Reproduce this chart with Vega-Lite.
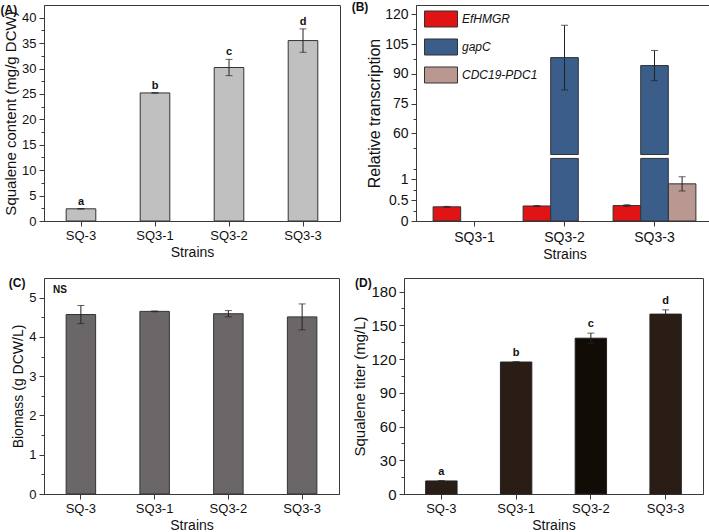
{
  "$schema": "https://vega.github.io/schema/vega-lite/v6.json",
  "padding": 0,
  "background": "white",
  "spacing": 14,
  "resolve": {"scale": {"color": "independent"}, "legend": {"color": "independent"}},
  "config": {
    "font": "Liberation Sans",
    "view": {"stroke": "#3a3a3a", "strokeWidth": 1},
    "axis": {
      "domainColor": "#3a3a3a", "tickColor": "#3a3a3a", "labelColor": "#111", "titleColor": "#111",
      "labelFont": "Liberation Sans", "titleFont": "Liberation Sans", "titleFontWeight": "normal",
      "grid": false, "tickSize": 5, "labelPadding": 3, "labelFontSize": 13, "titleFontSize": 14, "titlePadding": 3
    },
    "axisX": {"labelAngle": 0, "titlePadding": 3},
    "title": {"fontSize": 12, "fontWeight": "bold", "anchor": "start", "frame": "bounds", "color": "#111", "offset": -12}
  },
  "vconcat": [
    {
      "spacing": 10,
      "resolve": {"scale": {"color": "independent"}, "legend": {"color": "independent"}},
      "hconcat": [
        {
          "title": {"text": "(A)", "dx": -3},
          "width": 296, "height": 216,
          "data": {"values": [
            {"Strain": "SQ-3", "Value": 2.4, "Err": 0.05, "Letter": "a"},
            {"Strain": "SQ3-1", "Value": 25.2, "Err": 0.05, "Letter": "b"},
            {"Strain": "SQ3-2", "Value": 30.2, "Err": 1.6, "Letter": "c"},
            {"Strain": "SQ3-3", "Value": 35.5, "Err": 2.3, "Letter": "d"}
          ]},
          "encoding": {
            "x": {"field": "Strain", "type": "nominal", "sort": null,
                  "scale": {"paddingInner": 0.6, "paddingOuter": 0.3},
                  "axis": {"title": "Strains", "labelFontSize": 13}},
            "y": {"field": "Value", "type": "quantitative", "title": "Squalene content (mg/g DCW)",
               "scale": {"domain": [0, 42.5], "nice": false},
               "axis": {"title": "Squalene content (mg/g DCW)", "titleFontSize": 15,
                 "values": [0, 2.5, 5, 7.5, 10, 12.5, 15, 17.5, 20, 22.5, 25, 27.5, 30, 32.5, 35, 37.5, 40],
                 "labelExpr": "datum.value % 5 == 0 ? toString(datum.value) : ''",
                 "tickSize": {"condition": {"test": "datum.value % 5 != 0", "value": 3}, "value": 5}}}
          },
          "layer": [
            {"mark": {"type": "bar", "fill": "#c0c0c0", "stroke": "#333", "strokeWidth": 1}},
            {"mark": {"type": "errorbar", "ticks": {"size": 7, "color": "#222"}, "color": "#222"},
             "encoding": {"yError": {"field": "Err"}}},
            {"transform": [{"calculate": "datum.Value + datum.Err", "as": "Top"}],
             "mark": {"type": "text", "baseline": "bottom", "dy": -2, "fontWeight": "bold", "fontSize": 11, "font": "Liberation Sans", "color": "#111"},
             "encoding": {"y": {"field": "Top", "type": "quantitative", "title": "Squalene content (mg/g DCW)",
               "axis": {"title": "Squalene content (mg/g DCW)", "titleFontSize": 15,
                 "values": [0, 2.5, 5, 7.5, 10, 12.5, 15, 17.5, 20, 22.5, 25, 27.5, 30, 32.5, 35, 37.5, 40],
                 "labelExpr": "datum.value % 5 == 0 ? toString(datum.value) : ''",
                 "tickSize": {"condition": {"test": "datum.value % 5 != 0", "value": 3}, "value": 5}}},
               "text": {"field": "Letter"}}}
          ]
        },
        {
          "title": {"text": "(B)", "dx": -15},
          "width": 297, "height": 216,
          "data": {"values": [
            {"Strain": "SQ3-1", "Gene": "EfHMGR", "Value": 0.34, "Err": 0.01},
            {"Strain": "SQ3-2", "Gene": "EfHMGR", "Value": 0.36, "Err": 0.01},
            {"Strain": "SQ3-2", "Gene": "gapC", "Value": 98.2, "Err": 16.3},
            {"Strain": "SQ3-3", "Gene": "EfHMGR", "Value": 0.37, "Err": 0.02},
            {"Strain": "SQ3-3", "Gene": "gapC", "Value": 94.2, "Err": 7.6},
            {"Strain": "SQ3-3", "Gene": "CDC19-PDC1", "Value": 0.89, "Err": 0.17}
          ]},
          "encoding": {
            "x": {"field": "Strain", "type": "nominal", "sort": null,
                  "scale": {"domain": ["SQ3-1", "SQ3-2", "SQ3-3"], "paddingInner": 0.08, "paddingOuter": 0.19},
                  "axis": {"title": "Strains", "labelFontSize": 14, "titleFontSize": 14, "labelPadding": 4}},
            "xOffset": {"field": "Gene", "type": "nominal", "scale": {"domain": ["EfHMGR", "gapC", "CDC19-PDC1"], "paddingInner": 0, "paddingOuter": 0}},
            "y": {"field": "Value", "type": "quantitative", "title": "Relative transcription",
               "scale": {"domain": [0, 1.5, 49.4, 124.7], "range": [216, 153.4, 149.5, 0], "nice": false, "zero": false},
               "axis": {"title": "Relative transcription", "titleFontSize": 16, "labelFontSize": 14, "titlePadding": 2,
                 "values": [0, 0.25, 0.5, 0.75, 1, 1.25, 52.5, 60, 67.5, 75, 82.5, 90, 97.5, 105, 112.5, 120],
                 "labelExpr": "indexof([0, 0.5, 1, 60, 75, 90, 105, 120], datum.value) >= 0 ? toString(datum.value) : ''",
                 "tickSize": {"condition": {"test": "indexof([0, 0.5, 1, 60, 75, 90, 105, 120], datum.value) < 0", "value": 3}, "value": 5}}},
            "color": {"field": "Gene", "type": "nominal",
                 "scale": {"domain": ["EfHMGR", "gapC", "CDC19-PDC1"], "range": ["#e01414", "#3a5d8a", "#b99891"]},
                 "legend": {"orient": "none", "legendX": 8, "legendY": -3, "title": null,
                   "symbolType": "M-1,-0.485H1V0.485H-1Z", "symbolSize": 1089,
                   "symbolStrokeColor": "#333", "symbolStrokeWidth": 1, "symbolOpacity": 1,
                   "labelFontSize": 12, "labelFontStyle": "italic", "labelColor": "#111",
                   "rowPadding": -9, "labelOffset": 4}}
          },
          "layer": [
            {"transform": [{"filter": "datum.Gene != 'gapC'"}],
             "mark": {"type": "bar", "stroke": "#333", "strokeWidth": 1, "opacity": 1}},
            {"transform": [{"filter": "datum.Gene == 'gapC'"}],
             "mark": {"type": "bar", "stroke": "#333", "strokeWidth": 1, "opacity": 1},
             "encoding": {"y": {"datum": 1.5, "type": "quantitative", "title": "Relative transcription",
               "axis": {"title": "Relative transcription", "titleFontSize": 16, "labelFontSize": 14, "titlePadding": 2,
                 "values": [0, 0.25, 0.5, 0.75, 1, 1.25, 52.5, 60, 67.5, 75, 82.5, 90, 97.5, 105, 112.5, 120],
                 "labelExpr": "indexof([0, 0.5, 1, 60, 75, 90, 105, 120], datum.value) >= 0 ? toString(datum.value) : ''",
                 "tickSize": {"condition": {"test": "indexof([0, 0.5, 1, 60, 75, 90, 105, 120], datum.value) < 0", "value": 3}, "value": 5}}},
               "y2": {"datum": 0}}},
            {"transform": [{"filter": "datum.Gene == 'gapC'"}],
             "mark": {"type": "bar", "stroke": "#333", "strokeWidth": 1, "opacity": 1},
             "encoding": {"y2": {"datum": 49.4}}},
            {"mark": {"type": "errorbar", "ticks": {"size": 7, "color": "#222"}, "color": "#222"},
             "encoding": {"yError": {"field": "Err"}, "color": {"value": "#222"}}}
          ]
        }
      ]
    },
    {
      "spacing": 12,
      "resolve": {"scale": {"color": "independent"}, "legend": {"color": "independent"}},
      "hconcat": [
        {
          "title": {"text": "(C)", "dx": -3},
          "width": 295, "height": 216,
          "data": {"values": [
            {"Strain": "SQ-3", "Value": 4.57, "Err": 0.23},
            {"Strain": "SQ3-1", "Value": 4.65, "Err": 0.01},
            {"Strain": "SQ3-2", "Value": 4.59, "Err": 0.08},
            {"Strain": "SQ3-3", "Value": 4.51, "Err": 0.33}
          ]},
          "encoding": {
            "x": {"field": "Strain", "type": "nominal", "sort": null,
                  "scale": {"paddingInner": 0.6, "paddingOuter": 0.3},
                  "axis": {"title": "Strains", "labelFontSize": 13}},
            "y": {"field": "Value", "type": "quantitative", "title": "Biomass (g DCW/L)",
               "scale": {"domain": [0, 5.5], "nice": false},
               "axis": {"title": "Biomass (g DCW/L)", "titleFontSize": 14, "labelFontSize": 13,
                 "values": [0, 0.5, 1, 1.5, 2, 2.5, 3, 3.5, 4, 4.5, 5],
                 "labelExpr": "datum.value % 1 == 0 ? toString(datum.value) : ''",
                 "tickSize": {"condition": {"test": "datum.value % 1 != 0", "value": 3}, "value": 5}}}
          },
          "layer": [
            {"mark": {"type": "bar", "fill": "#6b6769", "stroke": "#333", "strokeWidth": 1}},
            {"mark": {"type": "errorbar", "ticks": {"size": 7, "color": "#222"}, "color": "#222"},
             "encoding": {"yError": {"field": "Err"}}},
            {"data": {"values": [{"Label": "NS", "Strain": "SQ-3", "Value": 5.2}]},
             "mark": {"type": "text", "fontWeight": "bold", "fontSize": 10, "font": "Liberation Sans", "dx": -21, "color": "#111"},
             "encoding": {"text": {"field": "Label"}}}
          ]
        },
        {
          "title": {"text": "(D)", "dx": 2},
          "width": 299, "height": 216,
          "data": {"values": [
            {"Strain": "SQ-3", "Value": 11.6, "Err": 0.3, "Letter": "a"},
            {"Strain": "SQ3-1", "Value": 117.3, "Err": 0.4, "Letter": "b"},
            {"Strain": "SQ3-2", "Value": 138.5, "Err": 4.5, "Letter": "c"},
            {"Strain": "SQ3-3", "Value": 159.9, "Err": 3.8, "Letter": "d"}
          ]},
          "encoding": {
            "x": {"field": "Strain", "type": "nominal", "sort": null,
                  "scale": {"paddingInner": 0.58, "paddingOuter": 0.29},
                  "axis": {"title": "Strains", "labelFontSize": 13}},
            "y": {"field": "Value", "type": "quantitative", "title": "Squalene titer (mg/L)",
               "scale": {"domain": [0, 192], "nice": false},
               "axis": {"title": "Squalene titer (mg/L)", "titleFontSize": 15, "labelFontSize": 15,
                 "values": [0, 15, 30, 45, 60, 75, 90, 105, 120, 135, 150, 165, 180],
                 "labelExpr": "datum.value % 30 == 0 ? toString(datum.value) : ''",
                 "tickSize": {"condition": {"test": "datum.value % 30 != 0", "value": 3}, "value": 5}}}
          },
          "layer": [
            {"mark": {"type": "bar", "stroke": "#222", "strokeWidth": 1, "opacity": 1},
             "encoding": {"color": {"field": "Strain", "type": "nominal", "legend": null,
                 "scale": {"domain": ["SQ-3", "SQ3-1", "SQ3-2", "SQ3-3"], "range": ["#2a1d15", "#2a1d15", "#120c07", "#2a1d15"]}}}},
            {"mark": {"type": "errorbar", "ticks": {"size": 7, "color": "#222"}, "color": "#222"},
             "encoding": {"yError": {"field": "Err"}}},
            {"transform": [{"calculate": "datum.Value + datum.Err", "as": "Top"}],
             "mark": {"type": "text", "baseline": "bottom", "dy": -4, "fontWeight": "bold", "fontSize": 11, "font": "Liberation Sans", "color": "#111"},
             "encoding": {"y": {"field": "Top", "type": "quantitative", "title": "Squalene titer (mg/L)",
               "axis": {"title": "Squalene titer (mg/L)", "titleFontSize": 15, "labelFontSize": 15,
                 "values": [0, 15, 30, 45, 60, 75, 90, 105, 120, 135, 150, 165, 180],
                 "labelExpr": "datum.value % 30 == 0 ? toString(datum.value) : ''",
                 "tickSize": {"condition": {"test": "datum.value % 30 != 0", "value": 3}, "value": 5}}},
               "text": {"field": "Letter"}}}
          ]
        }
      ]
    }
  ]
}
